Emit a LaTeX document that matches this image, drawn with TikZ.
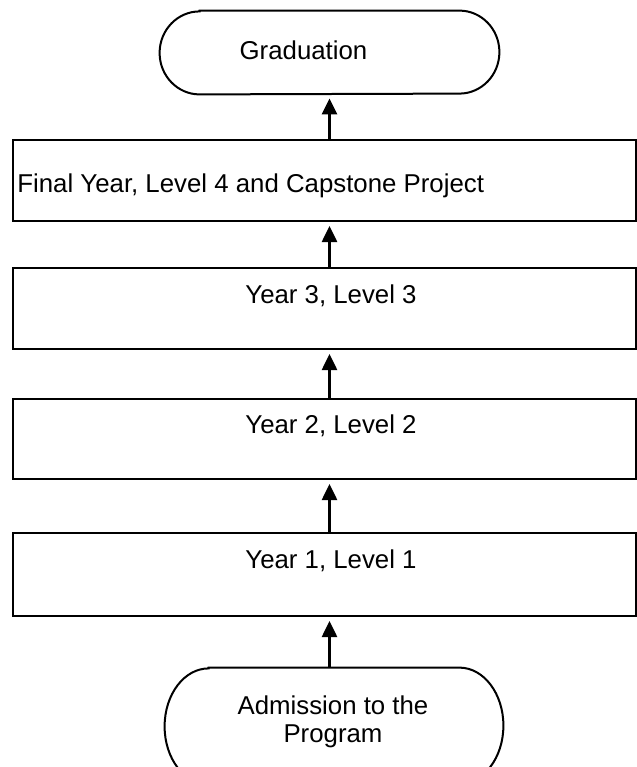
\documentclass[tikz,border=0pt]{standalone}
\usepackage{fontspec}
\setmainfont{Liberation Sans}
\usetikzlibrary{arrows.meta}

\begin{document}
\begin{tikzpicture}[x=0.5pt,y=-0.5pt,
    every node/.style={font=\fontsize{12.9}{13.75}\selectfont},
    yearbox/.style={draw,line width=1pt,inner sep=0pt,minimum width=311.5pt},
    ends/.style={inner sep=0pt},
    txt/.style={inner sep=0pt,anchor=base},
    up/.style={-{Triangle[length=8pt,width=7.5pt]},line width=1.3pt,shorten >=2pt}]
  \useasboundingbox (0,0) rectangle (637,767);
  \clip (0,0) rectangle (637,767);

  % start and end of the program
  \node[ends,minimum width=169.5pt,minimum height=41.5pt] (grad) at (329.5,52.5) {};
  \node[ends,minimum width=169pt,minimum height=58pt] (adm) at (334,726) {};

  % the four years
  \node[yearbox,minimum height=40.5pt] (fin) at (324.5,180.5) {};
  \node[yearbox,minimum height=40.5pt] (y3) at (324.5,308.5) {};
  \node[yearbox,minimum height=40pt] (y2) at (324.5,439) {};
  \node[yearbox,minimum height=41.5pt] (y1) at (324.5,574.5) {};

  \draw[line width=1pt] ([xshift=20pt]grad.north west) -- ([xshift=-20pt]grad.north east)
      arc[start angle=90,end angle=-90,x radius=20pt,y radius=20.75pt]
      -- ([xshift=20pt]grad.south west)
      arc[start angle=270,end angle=90,x radius=20pt,y radius=20.75pt] -- cycle;
  \draw[line width=1pt] ([xshift=22pt]adm.north west) -- ([xshift=-22pt]adm.north east)
      arc[start angle=90,end angle=-90,x radius=22pt,y radius=29pt]
      -- ([xshift=22pt]adm.south west)
      arc[start angle=270,end angle=90,x radius=22pt,y radius=29pt] -- cycle;

  \node[txt] (gradtxt) at (303.5,59) {Graduation};
  \node[txt,anchor=base west] (fintxt) at (17,192) {Final Year, Level 4 and Capstone Project};
  \node[txt] (y3txt) at (331,303) {Year 3, Level 3};
  \node[txt] (y2txt) at (331,433) {Year 2, Level 2};
  \node[txt] (y1txt) at (331,568) {Year 1, Level 1};
  \node[txt,align=center] (admtxt) at (333,742) {Admission to the\\Program};

  \draw[up] (fin.north -| grad.south) -- (grad.south);
  \draw[up] (y3.north -| grad.south) -- (fin.south -| grad.south);
  \draw[up] (y2.north -| grad.south) -- (y3.south -| grad.south);
  \draw[up] (y1.north -| grad.south) -- (y2.south -| grad.south);
  \draw[up] (adm.north -| grad.south) -- (y1.south -| grad.south);
\end{tikzpicture}
\end{document}
